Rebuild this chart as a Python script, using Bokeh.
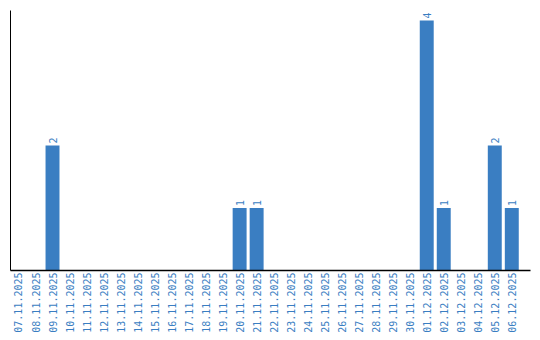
from bokeh.plotting import figure
from bokeh.models import ColumnDataSource, Range1d, FixedTicker
from bokeh.embed import file_html
from bokeh.resources import INLINE
from bokeh.core.properties import value
import math

dates = ["07.11.2025", "08.11.2025", "09.11.2025", "10.11.2025", "11.11.2025",
         "12.11.2025", "13.11.2025", "14.11.2025", "15.11.2025", "16.11.2025",
         "17.11.2025", "18.11.2025", "19.11.2025", "20.11.2025", "21.11.2025",
         "22.11.2025", "23.11.2025", "24.11.2025", "25.11.2025", "26.11.2025",
         "27.11.2025", "28.11.2025", "29.11.2025", "30.11.2025", "01.12.2025",
         "02.12.2025", "03.12.2025", "04.12.2025", "05.12.2025", "06.12.2025"]
counts = [0, 0, 2, 0, 0, 0, 0, 0, 0, 0,
          0, 0, 0, 1, 1, 0, 0, 0, 0, 0,
          0, 0, 0, 0, 4, 1, 0, 0, 2, 1]

BLUE = "#3a7ec2"
FONT = "DejaVu Sans Mono"

idx = list(range(len(dates)))
src = ColumnDataSource(dict(x=idx, y=counts, d=dates))
nz = [i for i in idx if counts[i] > 0]
lab = ColumnDataSource(dict(x=nz, y=[counts[i] for i in nz], t=[str(counts[i]) for i in nz]))

p = figure(width=540, height=340, output_backend="svg", toolbar_location=None,
           x_range=Range1d(-0.47, 30.1), y_range=Range1d(0, 4.16),
           min_border_left=10, min_border_right=10, min_border_top=10, min_border_bottom=70)
p.outline_line_color = None
p.xgrid.visible = False
p.ygrid.visible = False

p.vbar(x="x", top="y", width=0.82, source=src, fill_color=BLUE, line_color=None)
p.text(x="x", y="y", text="t", source=lab, angle=math.pi / 2, y_offset=-2,
       text_align="left", text_baseline="middle", text_color=BLUE,
       text_font=value(FONT), text_font_size="10px")

p.xaxis.ticker = FixedTicker(ticks=idx)
p.xaxis.major_label_overrides = {i: d for i, d in zip(idx, dates)}
p.xaxis.major_label_orientation = math.pi / 2
p.xaxis.major_label_text_color = BLUE
p.xaxis.major_label_text_font = FONT
p.xaxis.major_label_text_font_size = "10px"
p.xaxis.major_tick_line_color = None
p.xaxis.minor_tick_line_color = None
p.xaxis.major_tick_out = 0
p.xaxis.major_tick_in = 0
p.xaxis.major_label_standoff = 2
p.xaxis.axis_line_color = "black"
p.xaxis.axis_line_width = 1.5

p.yaxis.major_label_text_font_size = "0px"
p.yaxis.major_tick_line_color = None
p.yaxis.minor_tick_line_color = None
p.yaxis.major_label_text_color = None
p.yaxis.axis_line_color = "black"

open("out.html", "w").write(file_html(p, INLINE))
